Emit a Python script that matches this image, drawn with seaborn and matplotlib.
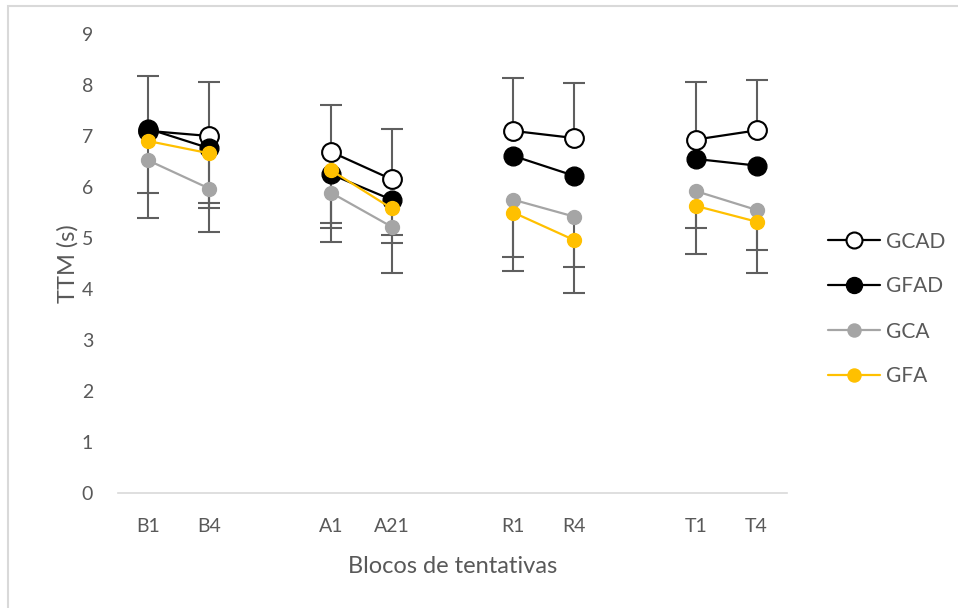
"""
plot.py
TTM por bloco de tentativas (GCAD, GFAD, GCA, GFA)
"""

import numpy as np
import pandas as pd
import matplotlib
matplotlib.use("Agg")
import matplotlib.pyplot as plt
from matplotlib.lines import Line2D
from matplotlib.patches import Rectangle
import seaborn as sns

# ─────────────────────────────────────────────
# DATA
# ─────────────────────────────────────────────
BLOCOS = ["B1", "B4", "A1", "A21", "R1", "R4", "T1", "T4"]

GCAD = [7.10, 7.00, 6.69, 6.15, 7.10, 6.96, 6.93, 7.11]
GFAD = [7.14, 6.76, 6.25, 5.75, 6.61, 6.22, 6.55, 6.42]
GCA  = [6.52, 5.97, 5.89, 5.22, 5.75, 5.42, 5.92, 5.55]
GFA  = [6.90, 6.66, 6.33, 5.58, 5.50, 4.96, 5.63, 5.32]

# barras de erro (só um lado visível no original)
GCAD_ERR_UP   = [1.08, 1.06, 0.92, 0.99, 1.04, 1.07, 1.12, 0.98]
GFAD_ERR_DOWN = [0.00, 1.07, 0.96, 0.70, 0.00, 0.00, 0.00, 0.00]
GCA_ERR_DOWN  = [1.13, 0.85, 0.96, 0.90, 1.12, 0.98, 0.73, 0.79]
GFA_ERR_DOWN  = [1.02, 1.07, 1.13, 0.68, 1.15, 1.03, 0.94, 1.00]

SERIES = {"GCAD": GCAD, "GFAD": GFAD, "GCA": GCA, "GFA": GFA}
# (erro, lado): "up" = só para cima, "down" = só para baixo
ERRORS = {
    "GCAD": (GCAD_ERR_UP, "up"),
    "GFAD": (GFAD_ERR_DOWN, "down"),
    "GCA":  (GCA_ERR_DOWN, "down"),
    "GFA":  (GFA_ERR_DOWN, "down"),
}

STYLE = {
    "GCAD": dict(color="black", mfc="white", mec="black", ms=13.5, mew=1.5, lms=11.5),
    "GFAD": dict(color="black", mfc="black", mec="black", ms=13.5, mew=1.0, lms=11.5),
    "GCA":  dict(color="#a5a5a5", mfc="#a5a5a5", mec="#a5a5a5", ms=10, mew=1.0, lms=9.4),
    "GFA":  dict(color="#ffc000", mfc="#ffc000", mec="#ffc000", ms=10, mew=1.0, lms=9.4),
}
TEXT_COLOR = "#595959"
ERR_COLOR  = "#5f5f5f"

# posição no eixo: cada par de blocos separado por uma categoria vazia
pos = np.array([i + i // 2 for i in range(len(BLOCOS))])
pair = np.array([i // 2 for i in range(len(BLOCOS))])

rows = []
for name, vals in SERIES.items():
    for b, p, g, v in zip(BLOCOS, pos, pair, vals):
        rows.append({"serie": name, "bloco": b, "pos": p, "par": g, "ttm": v})
df = pd.DataFrame(rows)

# ─────────────────────────────────────────────
# PLOT
# ─────────────────────────────────────────────
sns.set_style("white")
plt.rcParams["font.family"] = ["Lato", "DejaVu Sans"]

fig = plt.figure(figsize=(9.58, 6.08), dpi=100)
ax = fig.add_axes([0.1232, 0.1891, 0.6983, 0.755])

# moldura externa do gráfico
fig.patches.append(Rectangle((8 / 958, -0.02), 1.1, 1 - 6 / 608 + 0.02,
                             transform=fig.transFigure, fill=False,
                             edgecolor="#d9d9d9", linewidth=1.5, zorder=0))

for name, vals in SERIES.items():
    err, side = ERRORS[name]
    err = np.asarray(err)
    vals = np.asarray(vals)
    keep = err > 0
    zero = np.zeros(keep.sum())
    yerr = [zero, err[keep]] if side == "up" else [err[keep], zero]
    cont = ax.errorbar(pos[keep], vals[keep], yerr=yerr, fmt="none",
                       ecolor=ERR_COLOR, elinewidth=1.5, capsize=8,
                       capthick=1.5, zorder=1)
    caps = cont[1]  # (inferior, superior)
    caps[0 if side == "up" else 1].set_visible(False)

for k, name in enumerate(SERIES):
    st = STYLE[name]
    sns.lineplot(data=df[df["serie"] == name], x="pos", y="ttm",
                 units="par", estimator=None, color=st["color"],
                 linewidth=1.6, marker="o", markersize=st["ms"],
                 markerfacecolor=st["mfc"], markeredgecolor=st["mec"],
                 markeredgewidth=st["mew"], legend=False, ax=ax,
                 zorder=3 + k)

ax.set_xlim(-0.5, 10.5)
ax.set_ylim(0, 9)
ax.set_yticks(range(0, 10))
ax.set_xticks(pos)
ax.set_xticklabels(BLOCOS)
ax.tick_params(axis="both", length=0, labelsize=14, colors=TEXT_COLOR)
ax.tick_params(axis="y", pad=18)
ax.tick_params(axis="x", pad=18)

ax.set_xlabel("Blocos de tentativas", fontsize=17, color=TEXT_COLOR, labelpad=15)
ax.set_ylabel("TTM (s)", fontsize=17, color=TEXT_COLOR, labelpad=2)

for s in ["left", "right", "top"]:
    ax.spines[s].set_visible(False)
ax.spines["bottom"].set_color("#d9d9d9")
ax.spines["bottom"].set_linewidth(1.2)
ax.grid(False)

handles = []
for name in SERIES:
    st = STYLE[name]
    handles.append(Line2D([0], [0], color=st["color"], linewidth=1.6,
                          marker="o", markersize=st["lms"],
                          markerfacecolor=st["mfc"], markeredgecolor=st["mec"],
                          markeredgewidth=st["mew"]))
fig.legend(handles, list(SERIES), loc="center left",
           bbox_to_anchor=(828 / 958, 1 - 309 / 608), frameon=False,
           fontsize=15, labelcolor=TEXT_COLOR, handlelength=2.5,
           handletextpad=0.3, labelspacing=1.2, borderaxespad=0,
           borderpad=0)

plt.savefig("out.png", dpi=100)
plt.close()
